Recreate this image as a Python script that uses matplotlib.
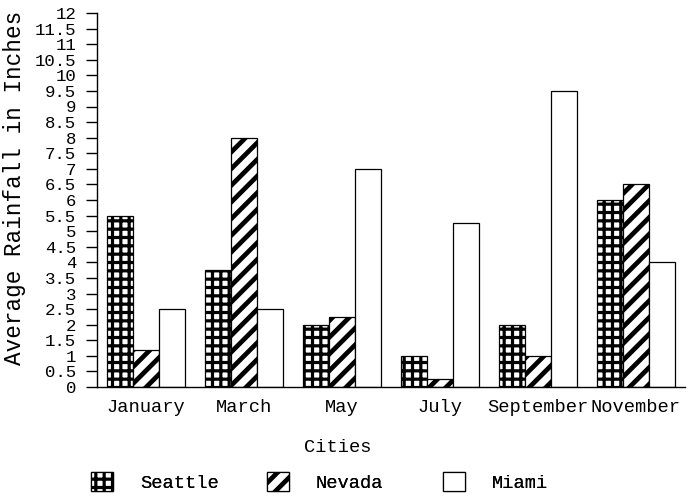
import matplotlib
matplotlib.use("Agg")
import matplotlib.pyplot as plt
import numpy as np
from matplotlib.patches import Patch

months = ["January", "March", "May", "July", "September", "November"]
series_names = ["Seattle", "Nevada", "Miami"]
seattle = [5.5, 3.75, 2.0, 1.0, 2.0, 6.0]
nevada = [1.2, 8.0, 2.25, 0.25, 1.0, 6.5]
miami = [2.5, 2.5, 7.0, 5.25, 9.5, 4.0]
y_ticks = np.arange(0, 12.01, 0.5)

FONT = ["Liberation Mono", "DejaVu Sans Mono"]
plt.rcParams["font.family"] = FONT

hatches = ["++", "//", ""]
hatch_lws = [2.3, 3.4, 1.0]

fig = plt.figure(figsize=(7.0, 4.96), dpi=100)
ax = fig.add_axes([97 / 700, 1 - 387 / 496, 588 / 700, 374 / 496])

x = np.arange(len(months))
w = 26 / 98
data = [seattle, nevada, miami]
for i, (vals, h, hl) in enumerate(zip(data, hatches, hatch_lws)):
    with plt.rc_context({"hatch.linewidth": hl, "hatch.color": "black"}):
        bars = ax.bar(x + (i - 1) * w, vals, width=w, facecolor="white",
                      edgecolor="black", linewidth=0.9, hatch=h)
        for b in bars:
            if hasattr(b, "set_hatch_linewidth"):
                b.set_hatch_linewidth(hl)

ax.set_xlim(-0.5, 5.5)
ax.set_ylim(0, 12)
ax.set_yticks(y_ticks)
ax.set_yticklabels([f"{v:g}" for v in y_ticks], fontsize=12.5)
ax.set_xticks(x)
ax.set_xticklabels(months, fontsize=13.5)
ax.tick_params(axis="x", length=0, pad=9)
ax.tick_params(axis="y", length=8, width=1, pad=7, direction="out")
for s in ["top", "right"]:
    ax.spines[s].set_visible(False)
for s in ["left", "bottom"]:
    ax.spines[s].set_linewidth(1)

ax.set_ylabel("Average Rainfall in Inches", fontsize=16.3, va="center")
ax.yaxis.set_label_coords(-(97 - 15) / 588, (387 - 188) / 374)
fig.text(338 / 700, 1 - 447 / 496, "Cities", fontsize=13.5, ha="center", va="center")

leg_x = [91, 267, 443]
for name, h, hl, lx in zip(series_names, hatches, hatch_lws, leg_x):
    with plt.rc_context({"hatch.linewidth": hl, "hatch.color": "black"}):
        p = Patch(facecolor="white", edgecolor="black", linewidth=0.9, hatch=h)
        if hasattr(p, "set_hatch_linewidth"):
            p.set_hatch_linewidth(hl)
        lg = fig.legend([p], [name], loc="center left",
                        bbox_to_anchor=(lx / 700, 1 - 482 / 496),
                        frameon=False, fontsize=13.5, handlelength=1.15,
                        handleheight=1.15, handletextpad=1.45,
                        borderpad=0, borderaxespad=0)
        fig.add_artist(lg)

fig.savefig("out.png", dpi=100)
